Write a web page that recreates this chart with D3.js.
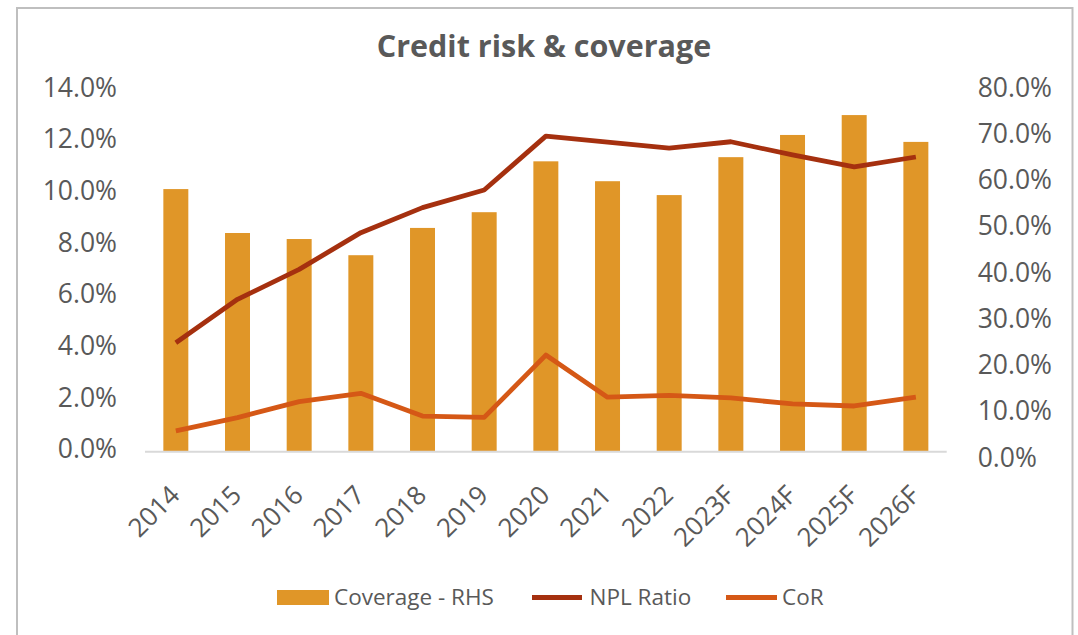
<!DOCTYPE html>
<html>
<head>
<meta charset="utf-8">
<script src="https://cdn.jsdelivr.net/npm/d3@7"></script>
<style>
  html, body { margin: 0; padding: 0; background: #ffffff; }
  svg { display: block; }
  text { font-family: "Open Sans", "Noto Sans", sans-serif; fill: #595959; }
</style>
</head>
<body>
<svg id="chart" width="1078" height="635"></svg>
<script>
// ---- data ----
const years = ["2014","2015","2016","2017","2018","2019","2020","2021","2022","2023F","2024F","2025F","2026F"];
const coverage = [0.586, 0.491, 0.478, 0.443, 0.502, 0.536, 0.646, 0.603, 0.573, 0.655, 0.703, 0.746, 0.688];
const nplRatio = [0.0422, 0.0590, 0.0706, 0.0848, 0.0945, 0.1013, 0.1222, 0.1199, 0.1175, 0.1200, 0.1149, 0.1103, 0.1141];
const cor      = [0.0081, 0.0132, 0.0194, 0.0226, 0.0138, 0.0133, 0.0374, 0.0211, 0.0218, 0.0208, 0.0185, 0.0177, 0.0211];
const leftTicks  = [0, 0.02, 0.04, 0.06, 0.08, 0.10, 0.12, 0.14];
const rightTicks = [0, 0.1, 0.2, 0.3, 0.4, 0.5, 0.6, 0.7, 0.8];
const seriesNames = ["Coverage - RHS", "NPL Ratio", "CoR"];

// ---- style ----
const C_BAR = "#E09628", C_NPL = "#A5300F", C_COR = "#D55816";
const svg = d3.select("#chart");

// chart border
svg.append("rect").attr("x", 17).attr("y", 8).attr("width", 1055.5).attr("height", 660)
  .attr("fill", "none").attr("stroke", "#bfbfbf").attr("stroke-width", 2);

// title
svg.append("text").attr("x", 544).attr("y", 57).attr("text-anchor", "middle")
  .style("font-size", "30.5px").style("font-weight", "bold").text("Credit risk & coverage");

// scales
const plotL = 145, plotR = 946.7, baseY = 451.7;
const x = d3.scaleBand().domain(years).range([plotL, plotR]).paddingInner(0.595).paddingOuter(0.2975);
const yL = d3.scaleLinear().domain([0, 0.14]).range([baseY, 90.1]);
const yR = d3.scaleLinear().domain([0, 0.8]).range([460.1, 90.1]);
const labelShift = -2.4;

// bars (RHS)
svg.append("g").selectAll("rect").data(years).join("rect")
  .attr("x", d => x(d))
  .attr("width", x.bandwidth())
  .attr("y", (d, i) => yR(coverage[i]))
  .attr("height", (d, i) => baseY - yR(coverage[i]))
  .attr("fill", C_BAR);

// x axis line
svg.append("line").attr("x1", plotL).attr("x2", plotR).attr("y1", baseY).attr("y2", baseY)
  .attr("stroke", "#d9d9d9").attr("stroke-width", 2);

// lines
const cx = d => x(d) + x.bandwidth() / 2;
const lineL = vals => d3.line().x(d => cx(d)).y((d, i) => yL(vals[i]))(years);
svg.append("path").attr("d", lineL(nplRatio)).attr("fill", "none").attr("stroke", C_NPL)
  .attr("stroke-width", 4.8).attr("stroke-linejoin", "round");
svg.append("path").attr("d", lineL(cor)).attr("fill", "none").attr("stroke", C_COR)
  .attr("stroke-width", 4.8).attr("stroke-linejoin", "round");

// left axis
const gL = svg.append("g").attr("transform", `translate(${plotL},0)`)
  .call(d3.axisLeft(yL).tickValues(leftTicks).tickFormat(d3.format(".1%")).tickSize(0).tickPadding(28));
gL.select(".domain").remove();
gL.selectAll("text").attr("y", labelShift).style("font-size", "26.5px").style("font-family", null).attr("fill", null);

// right axis
const gR = svg.append("g").attr("transform", `translate(977.7,0)`)
  .call(d3.axisRight(yR).tickValues(rightTicks).tickFormat(d3.format(".1%")).tickSize(0).tickPadding(0));
gR.select(".domain").remove();
gR.selectAll("text").attr("y", labelShift).style("font-size", "26.5px").style("font-family", null).attr("fill", null);

// bottom axis
const gB = svg.append("g").attr("transform", `translate(0,${baseY})`)
  .call(d3.axisBottom(x).tickSize(0));
gB.select(".domain").remove();
gB.selectAll("text")
  .attr("x", null).attr("y", null).attr("dy", null)
  .attr("text-anchor", "end")
  .attr("transform", "translate(5.5,45) rotate(-45)")
  .style("font-size", "26px").style("font-family", null).attr("fill", null);

// legend
const lg = svg.append("g");
const legY = 597.5;
lg.append("rect").attr("x", 277).attr("y", 590).attr("width", 52).attr("height", 15).attr("fill", C_BAR);
lg.append("text").attr("x", 334).attr("y", legY).attr("dy", "0.35em").style("font-size", "22.5px").text(seriesNames[0]);
lg.append("line").attr("x1", 532).attr("x2", 582).attr("y1", legY).attr("y2", legY).attr("stroke", C_NPL).attr("stroke-width", 5);
lg.append("text").attr("x", 589.5).attr("y", legY).attr("dy", "0.35em").style("font-size", "22.5px").text(seriesNames[1]);
lg.append("line").attr("x1", 726).attr("x2", 777).attr("y1", legY).attr("y2", legY).attr("stroke", C_COR).attr("stroke-width", 5);
lg.append("text").attr("x", 782).attr("y", legY).attr("dy", "0.35em").style("font-size", "22.5px").text(seriesNames[2]);
</script>
</body>
</html>
